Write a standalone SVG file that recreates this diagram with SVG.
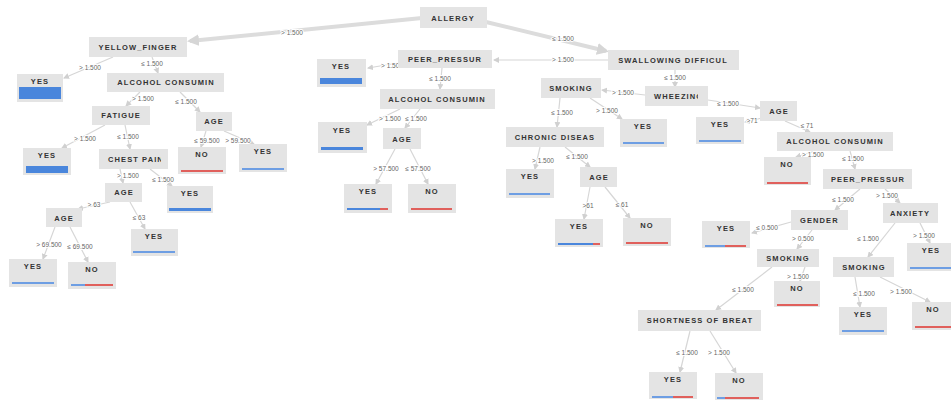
<svg xmlns="http://www.w3.org/2000/svg" width="951" height="400" viewBox="0 0 951 400">
<defs>
<style>
.n rect{fill:#e4e4e4}
.n text{font-family:"Liberation Sans",Arial,sans-serif;font-weight:bold;font-size:7.5px;letter-spacing:1.1px;fill:#333;text-anchor:middle}
.e line{stroke:#d6d6d6;stroke-width:1.2;marker-end:url(#ah)}
.e line.tk{stroke:#dcdcdc;stroke-width:4;marker-end:url(#ahb)}
.lb text{font-family:"Liberation Sans",Arial,sans-serif;font-size:6.5px;fill:#666;text-anchor:middle;stroke:#fff;stroke-width:2px;paint-order:stroke}
.n .b{fill:#4a86dc}
.n .lt{fill:#6e9ee3}
.n .r{fill:#e0605c}
</style>
<marker id="ah" markerWidth="6" markerHeight="6" refX="5" refY="3" orient="auto" markerUnits="userSpaceOnUse"><path d="M0,0 L6,3 L0,6 z" fill="#d0d0d0"/></marker>
<marker id="ahb" markerWidth="12" markerHeight="12" refX="9" refY="6" orient="auto" markerUnits="userSpaceOnUse"><path d="M0,0 L12,6 L0,12 z" fill="#d6d6d6"/></marker>
<clipPath id="cChest"><rect x="99" y="149" width="62" height="20"/></clipPath>
<clipPath id="cWheez"><rect x="645" y="86" width="53" height="20"/></clipPath>
<clipPath id="cGender"><rect x="791" y="210" width="47" height="20"/></clipPath>
</defs>
<rect width="951" height="400" fill="#fff"/>

<g id="connectors">
<g class="e">
<line class="tk" x1="422" y1="18" x2="190" y2="41"/>
<line class="tk" x1="486" y1="22" x2="606" y2="51"/>
<line x1="113" y1="57" x2="64" y2="78"/>
<line x1="152" y1="57" x2="158" y2="73"/>
<line x1="140" y1="92" x2="126" y2="106"/>
<line x1="180" y1="92" x2="200" y2="112"/>
<line x1="105" y1="125" x2="62" y2="148"/>
<line x1="125" y1="125" x2="130" y2="149"/>
<line x1="206" y1="131" x2="201" y2="147"/>
<line x1="224" y1="131" x2="254" y2="144"/>
<line x1="120" y1="169" x2="123" y2="183"/>
<line x1="150" y1="169" x2="172" y2="186"/>
<line x1="110" y1="202" x2="78" y2="209"/>
<line x1="130" y1="202" x2="145" y2="229"/>
<line x1="55" y1="227" x2="43" y2="259"/>
<line x1="70" y1="227" x2="88" y2="262"/>
<line x1="608" y1="60" x2="494" y2="60"/>
<line x1="398" y1="63" x2="368" y2="68"/>
<line x1="442" y1="68" x2="440" y2="89"/>
<line x1="400" y1="109" x2="367" y2="125"/>
<line x1="420" y1="109" x2="405" y2="128"/>
<line x1="395" y1="149" x2="376" y2="184"/>
<line x1="410" y1="149" x2="428" y2="184"/>
<line x1="675" y1="70" x2="675" y2="87"/>
<line x1="645" y1="95" x2="602" y2="90"/>
<line x1="560" y1="98" x2="557" y2="127"/>
<line x1="590" y1="98" x2="622" y2="119"/>
<line x1="708" y1="100" x2="760" y2="108"/>
<line x1="762" y1="118" x2="745" y2="122"/>
<line x1="785" y1="121" x2="810" y2="132"/>
<line x1="815" y1="151" x2="796" y2="157"/>
<line x1="850" y1="151" x2="855" y2="169"/>
<line x1="540" y1="147" x2="535" y2="169"/>
<line x1="565" y1="147" x2="590" y2="167"/>
<line x1="590" y1="187" x2="584" y2="219"/>
<line x1="605" y1="187" x2="630" y2="218"/>
<line x1="860" y1="189" x2="835" y2="210"/>
<line x1="885" y1="189" x2="900" y2="203"/>
<line x1="791" y1="222" x2="752" y2="233"/>
<line x1="812" y1="230" x2="797" y2="249"/>
<line x1="895" y1="223" x2="868" y2="257"/>
<line x1="920" y1="223" x2="930" y2="243"/>
<line x1="805" y1="267" x2="800" y2="281"/>
<line x1="772" y1="267" x2="716" y2="310"/>
<line x1="855" y1="277" x2="860" y2="307"/>
<line x1="880" y1="277" x2="930" y2="302"/>
<line x1="690" y1="331" x2="680" y2="372"/>
<line x1="710" y1="331" x2="736" y2="373"/>
</g>
<g class="lb">
<text x="292" y="35">&gt; 1.500</text>
<text x="563" y="41">≤ 1.500</text>
<text x="90" y="70">&gt; 1.500</text>
<text x="152" y="66">≤ 1.500</text>
<text x="143" y="101">&gt; 1.500</text>
<text x="186" y="104">≤ 1.500</text>
<text x="85" y="141">&gt; 1.500</text>
<text x="128" y="139">≤ 1.500</text>
<text x="207" y="143">≤ 59.500</text>
<text x="238" y="143">&gt; 59.500</text>
<text x="128" y="178">&gt; 1.500</text>
<text x="163" y="182">≤ 1.500</text>
<text x="94" y="207">&gt; 63</text>
<text x="139" y="220">≤ 63</text>
<text x="49" y="247">&gt; 69.500</text>
<text x="80" y="249">≤ 69.500</text>
<text x="563" y="62">&gt; 1.500</text>
<text x="392" y="68">&gt; 1.500</text>
<text x="440" y="81">≤ 1.500</text>
<text x="390" y="121">&gt; 1.500</text>
<text x="416" y="121">≤ 1.500</text>
<text x="386" y="171">&gt; 57.500</text>
<text x="418" y="171">≤ 57.500</text>
<text x="675" y="80">≤ 1.500</text>
<text x="623" y="95">&gt; 1.500</text>
<text x="562" y="115">≤ 1.500</text>
<text x="607" y="113">&gt; 1.500</text>
<text x="728" y="106">≤ 1.500</text>
<text x="752" y="123">&gt;71</text>
<text x="807" y="128">≤ 71</text>
<text x="813" y="157">&gt; 1.500</text>
<text x="853" y="161">≤ 1.500</text>
<text x="543" y="163">&gt; 1.500</text>
<text x="577" y="159">≤ 1.500</text>
<text x="588" y="208">&gt;61</text>
<text x="622" y="207">≤ 61</text>
<text x="843" y="202">≤ 1.500</text>
<text x="887" y="198">&gt; 1.500</text>
<text x="767" y="230">≤ 0.500</text>
<text x="803" y="241">&gt; 0.500</text>
<text x="868" y="241">≤ 1.500</text>
<text x="924" y="238">&gt; 1.500</text>
<text x="798" y="279">&gt; 1.500</text>
<text x="743" y="292">≤ 1.500</text>
<text x="864" y="296">≤ 1.500</text>
<text x="901" y="294">&gt; 1.500</text>
<text x="687" y="355">≤ 1.500</text>
<text x="719" y="355">&gt; 1.500</text>
</g>
</g>

<g id="allergy" class="n"><rect x="420" y="7" width="67" height="21"/><text x="453" y="21">ALLERGY</text></g>
<g id="yellow_finger" class="n"><rect x="89" y="37" width="98" height="20"/><text x="138" y="50">YELLOW_FINGER</text></g>
<g id="leaf_yes_1" class="n"><rect x="17" y="74" width="46" height="28"/><text x="40" y="84">YES</text><rect class="b" x="19" y="87" width="42" height="12"/></g>
<g id="alcohol_1" class="n"><rect x="107" y="73" width="117" height="19"/><text x="166" y="85">ALCOHOL CONSUMIN</text></g>
<g id="fatigue" class="n"><rect x="92" y="106" width="58" height="19"/><text x="121" y="118">FATIGUE</text></g>
<g id="age_1" class="n"><rect x="196" y="112" width="36" height="19"/><text x="214" y="124">AGE</text></g>
<g id="leaf_yes_2" class="n"><rect x="23" y="148" width="48" height="27"/><text x="47" y="158">YES</text><rect class="b" x="26" y="166" width="42" height="7"/></g>
<g id="chest_pain" class="n"><rect x="99" y="149" width="69" height="20"/><text x="108" y="162" clip-path="url(#cChest)" style="text-anchor:start">CHEST PAIN</text></g>
<g id="leaf_no_1" class="n"><rect x="178" y="147" width="48" height="27"/><text x="202" y="157">NO</text><rect class="r" x="181" y="170" width="42" height="2"/></g>
<g id="leaf_yes_3" class="n"><rect x="239" y="144" width="48" height="28"/><text x="263" y="154">YES</text><rect class="lt" x="242" y="168" width="42" height="2"/></g>
<g id="age_2" class="n"><rect x="105" y="183" width="37" height="19"/><text x="124" y="195">AGE</text></g>
<g id="leaf_yes_4" class="n"><rect x="167" y="186" width="46" height="27"/><text x="190" y="196">YES</text><rect class="b" x="169" y="208" width="42" height="3"/></g>
<g id="age_3" class="n"><rect x="46" y="208" width="36" height="19"/><text x="64" y="221">AGE</text></g>
<g id="leaf_yes_5" class="n"><rect x="131" y="229" width="47" height="27"/><text x="154" y="239">YES</text><rect class="lt" x="133" y="251" width="42" height="2"/></g>
<g id="leaf_yes_6" class="n"><rect x="9" y="259" width="48" height="28"/><text x="33" y="269">YES</text><rect class="lt" x="12" y="282" width="42" height="2"/></g>
<g id="leaf_no_2" class="n"><rect x="68" y="262" width="48" height="27"/><text x="92" y="272">NO</text><rect class="lt" x="71" y="284" width="14" height="2"/><rect class="r" x="85" y="284" width="28" height="2"/></g>

<g id="peer_pressur_1" class="n"><rect x="398" y="50" width="94" height="18"/><text x="445" y="62">PEER_PRESSUR</text></g>
<g id="leaf_yes_7" class="n"><rect x="317" y="59" width="49" height="28"/><text x="341" y="69">YES</text><rect class="b" x="320" y="78" width="42" height="6"/></g>
<g id="alcohol_2" class="n"><rect x="380" y="89" width="115" height="20"/><text x="437" y="102">ALCOHOL CONSUMIN</text></g>
<g id="leaf_yes_8" class="n"><rect x="318" y="122" width="49" height="31"/><text x="342" y="133">YES</text><rect class="b" x="321" y="147" width="42" height="3"/></g>
<g id="age_4" class="n"><rect x="383" y="128" width="38" height="21"/><text x="402" y="142">AGE</text></g>
<g id="leaf_yes_9" class="n"><rect x="344" y="184" width="48" height="29"/><text x="368" y="194">YES</text><rect class="b" x="347" y="208" width="33" height="2"/><rect class="r" x="380" y="208" width="8" height="2"/></g>
<g id="leaf_no_3" class="n"><rect x="408" y="184" width="48" height="29"/><text x="432" y="194">NO</text><rect class="r" x="411" y="208" width="41" height="2"/></g>

<g id="swallowing" class="n"><rect x="608" y="50" width="131" height="20"/><text x="673" y="63">SWALLOWING DIFFICUL</text></g>
<g id="wheezing" class="n"><rect x="645" y="86" width="63" height="20"/><text x="654" y="99" clip-path="url(#cWheez)" style="text-anchor:start">WHEEZING</text></g>
<g id="smoking_1" class="n"><rect x="541" y="78" width="60" height="20"/><text x="571" y="91">SMOKING</text></g>
<g id="chronic" class="n"><rect x="506" y="127" width="98" height="20"/><text x="555" y="140">CHRONIC DISEAS</text></g>
<g id="leaf_yes_10" class="n"><rect x="620" y="119" width="47" height="28"/><text x="643" y="129">YES</text><rect class="lt" x="623" y="142" width="41" height="2"/></g>
<g id="age_5" class="n"><rect x="760" y="101" width="37" height="20"/><text x="779" y="114">AGE</text></g>
<g id="leaf_yes_11" class="n"><rect x="696" y="117" width="48" height="27"/><text x="720" y="127">YES</text><rect class="lt" x="699" y="140" width="42" height="2"/></g>
<g id="leaf_yes_12" class="n"><rect x="506" y="169" width="48" height="29"/><text x="530" y="179">YES</text><rect class="lt" x="509" y="193" width="41" height="2"/></g>
<g id="age_6" class="n"><rect x="580" y="167" width="37" height="20"/><text x="599" y="180">AGE</text></g>
<g id="leaf_yes_13" class="n"><rect x="555" y="219" width="48" height="28"/><text x="579" y="229">YES</text><rect class="b" x="558" y="243" width="35" height="2"/><rect class="r" x="593" y="243" width="7" height="2"/></g>
<g id="leaf_no_4" class="n"><rect x="623" y="218" width="48" height="28"/><text x="647" y="228">NO</text><rect class="r" x="626" y="242" width="42" height="2"/></g>
<g id="alcohol_3" class="n"><rect x="777" y="132" width="116" height="19"/><text x="835" y="144">ALCOHOL CONSUMIN</text></g>
<g id="leaf_no_5" class="n"><rect x="764" y="157" width="47" height="28"/><text x="787" y="167">NO</text><rect class="r" x="767" y="182" width="41" height="2"/></g>
<g id="peer_pressur_2" class="n"><rect x="823" y="169" width="89" height="20"/><text x="868" y="182">PEER_PRESSUR</text></g>
<g id="gender" class="n"><rect x="791" y="210" width="57" height="20"/><text x="800" y="223" clip-path="url(#cGender)" style="text-anchor:start">GENDER</text></g>
<g id="anxiety" class="n"><rect x="883" y="203" width="55" height="20"/><text x="910" y="216">ANXIETY</text></g>
<g id="leaf_yes_14" class="n"><rect x="702" y="221" width="48" height="27"/><text x="726" y="231">YES</text><rect class="lt" x="705" y="245" width="20" height="2"/><rect class="r" x="725" y="245" width="21" height="2"/></g>
<g id="smoking_2" class="n"><rect x="757" y="249" width="62" height="18"/><text x="788" y="261">SMOKING</text></g>
<g id="leaf_yes_15" class="n"><rect x="907" y="243" width="48" height="28"/><text x="931" y="253">YES</text><rect class="lt" x="910" y="267" width="42" height="2"/></g>
<g id="smoking_3" class="n"><rect x="833" y="257" width="61" height="20"/><text x="864" y="270">SMOKING</text></g>
<g id="leaf_no_6" class="n"><rect x="774" y="281" width="46" height="26"/><text x="797" y="291">NO</text><rect class="r" x="777" y="304" width="41" height="2"/></g>
<g id="shortness" class="n"><rect x="638" y="310" width="123" height="21"/><text x="700" y="323">SHORTNESS OF BREAT</text></g>
<g id="leaf_yes_16" class="n"><rect x="839" y="307" width="48" height="28"/><text x="863" y="317">YES</text><rect class="lt" x="842" y="330" width="42" height="2"/></g>
<g id="leaf_no_7" class="n"><rect x="912" y="302" width="48" height="28"/><text x="933" y="312">NO</text><rect class="r" x="915" y="326" width="42" height="2"/></g>
<g id="leaf_yes_17" class="n"><rect x="649" y="372" width="48" height="27"/><text x="673" y="382">YES</text><rect class="lt" x="652" y="396" width="21" height="2"/><rect class="r" x="673" y="396" width="20" height="2"/></g>
<g id="leaf_no_8" class="n"><rect x="715" y="373" width="48" height="27"/><text x="739" y="383">NO</text><rect class="lt" x="717" y="397" width="8" height="2"/><rect class="r" x="725" y="397" width="34" height="2"/></g>
</svg>
